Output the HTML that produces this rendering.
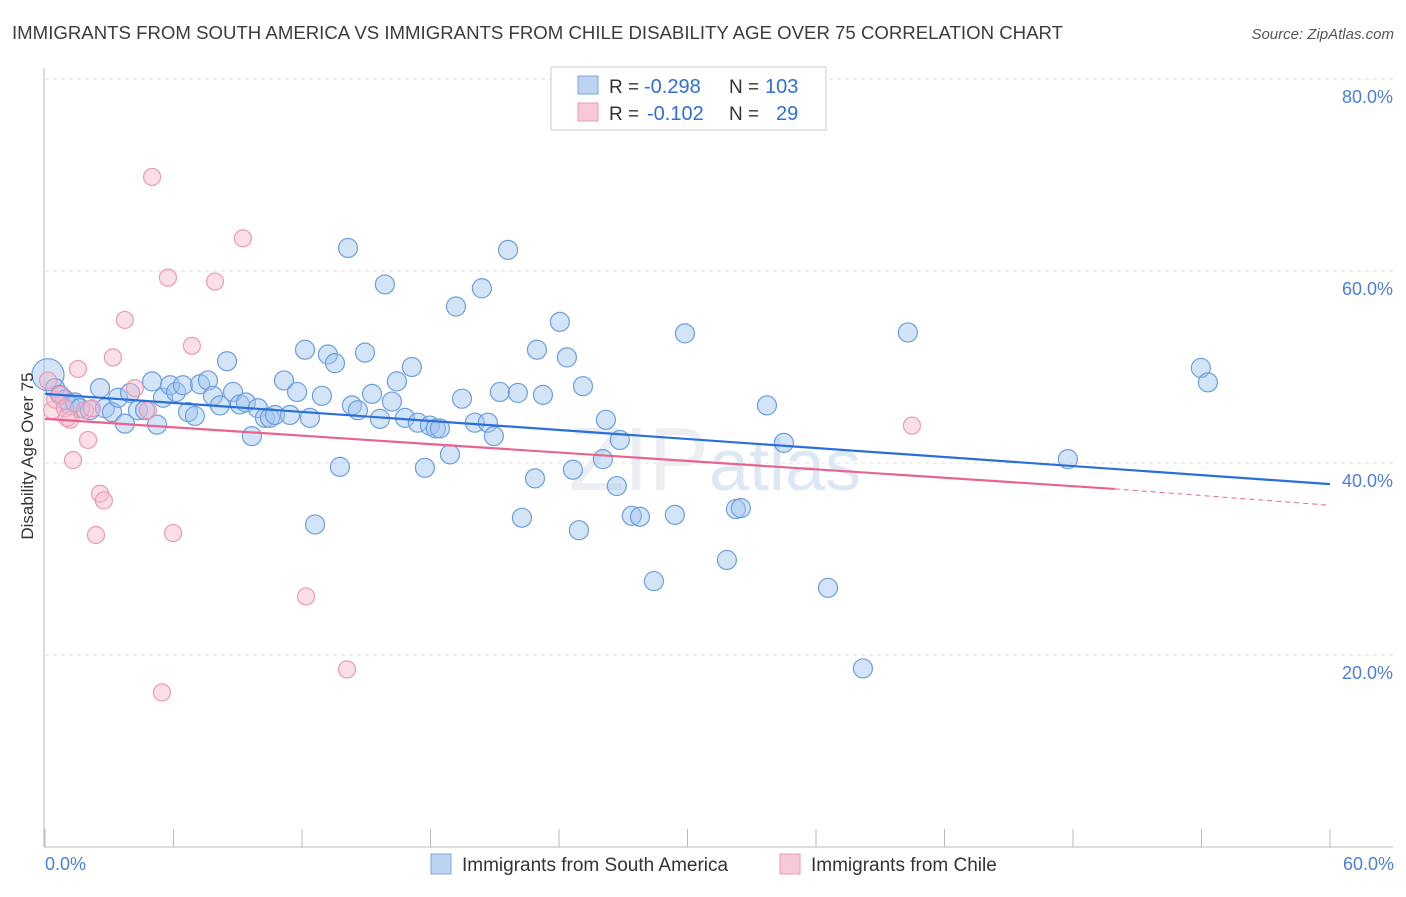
<!DOCTYPE html>
<html><head><meta charset="utf-8"><style>
body{margin:0;background:#fff;font-family:"Liberation Sans",sans-serif;}
svg text{font-family:"Liberation Sans",sans-serif;}
</style></head><body>
<svg id="chart" width="1406" height="892" xmlns="http://www.w3.org/2000/svg">
<text x="12" y="39" font-size="18" fill="#3c3c3c" textLength="1051" lengthAdjust="spacingAndGlyphs">IMMIGRANTS FROM SOUTH AMERICA VS IMMIGRANTS FROM CHILE DISABILITY AGE OVER 75 CORRELATION CHART</text>
<text x="1394" y="39" font-size="15" fill="#555" text-anchor="end" font-style="italic">Source: ZipAtlas.com</text>
<g id="grid"></g>
<text x="715" y="490" font-size="90" fill="#eceef2" text-anchor="middle" font-family="Liberation Serif">ZIP<tspan font-family="Liberation Sans" font-size="72" fill="#dde8f5">atlas</tspan></text>
<g id="pts"></g>
<g id="lines"></g>
<text transform="translate(33,456) rotate(-90)" font-size="17" fill="#333" text-anchor="middle">Disability Age Over 75</text>
<text x="45" y="870" font-size="18" fill="#4a7fd6">0.0%</text>
<text x="1394" y="870" font-size="18" fill="#4a7fd6" text-anchor="end">60.0%</text>
<g>
<rect x="551" y="67" width="275" height="63" fill="#fff" stroke="#ccc"/>
<rect x="578" y="76" width="20" height="18" fill="#bcd4f2" stroke="#7fa7df"/>
<rect x="578" y="103" width="20" height="18" fill="#f8c9d6" stroke="#ee9ab2"/>
<text x="609" y="93" font-size="19" fill="#333">R =</text>
<text x="644" y="93" font-size="20" fill="#2f6fd6">-0.298</text>
<text x="729" y="93" font-size="19" fill="#333">N =</text>
<text x="765" y="93" font-size="20" fill="#2f6fd6">103</text>
<text x="609" y="120" font-size="19" fill="#333">R =</text>
<text x="647" y="120" font-size="20" fill="#2f6fd6">-0.102</text>
<text x="729" y="120" font-size="19" fill="#333">N =</text>
<text x="776" y="120" font-size="20" fill="#2f6fd6">29</text>
</g>
<g>
<rect x="431" y="854" width="20" height="20" fill="#bcd4f2" stroke="#7fa7df"/>
<text x="462" y="871" font-size="19" fill="#333">Immigrants from South America</text>
<rect x="780" y="854" width="20" height="20" fill="#f8c9d6" stroke="#ee9ab2"/>
<text x="811" y="871" font-size="19" fill="#333">Immigrants from Chile</text>
</g>
</svg>
<script>
const yTicks=[20,40,60,80];
const yTickLabels=["20.0%","40.0%","60.0%","80.0%"];
const xTicks=[0,6,12,18,24,30,36,42,48,54,60];
const blueX=[0.14,0.47,0.70,0.93,1.17,1.40,1.63,2.10,2.57,2.80,3.13,3.41,3.73,3.97,4.34,4.67,5.00,5.23,5.51,5.84,6.12,6.44,6.68,7.00,7.24,7.61,7.84,8.17,8.50,8.78,9.10,9.38,9.66,9.94,10.27,10.50,10.74,11.16,11.44,11.77,12.14,12.37,12.61,12.93,13.21,13.54,13.77,14.15,14.33,14.61,14.94,15.27,15.64,15.87,16.20,16.43,16.81,17.13,17.41,17.74,17.97,18.25,18.44,18.91,19.19,19.47,20.07,20.40,20.68,20.96,21.24,21.62,22.08,22.27,22.88,22.97,23.25,24.04,24.37,24.65,24.93,25.12,26.05,26.19,26.70,26.84,27.40,27.78,28.43,29.41,29.88,31.84,32.26,32.49,33.71,34.50,36.56,38.19,40.29,47.76,53.97,54.30];
const blueY=[49.2,47.8,47.1,46.6,46.0,46.3,45.7,45.5,47.8,45.7,45.3,46.8,44.1,47.3,45.5,45.5,48.5,44.0,46.8,48.1,47.4,48.1,45.3,44.9,48.2,48.6,47.0,46.0,50.6,47.4,46.1,46.3,42.8,45.7,44.7,44.7,45.0,48.6,45.0,47.4,51.8,44.7,33.6,47.0,51.3,50.4,39.6,62.4,46.0,45.5,51.5,47.2,44.6,58.6,46.4,48.5,44.7,50.0,44.2,39.5,43.9,43.6,43.6,40.9,56.3,46.7,44.2,58.2,44.2,42.8,47.4,62.2,47.3,34.3,38.4,51.8,47.1,54.7,51.0,39.3,33.0,48.0,40.4,44.5,37.6,42.4,34.5,34.4,27.7,34.6,53.5,29.9,35.2,35.3,46.0,42.1,27.0,18.6,53.6,40.4,49.9,48.4];
const pinkX=[0.14,0.33,0.47,0.70,0.93,1.17,1.03,1.31,1.54,1.87,2.01,2.19,2.57,2.75,2.38,3.17,3.73,4.20,4.81,5.00,5.74,5.98,5.46,6.86,7.94,9.24,12.19,14.10,40.48];
const pinkY=[48.6,45.5,46.6,47.1,45.7,44.5,44.7,40.3,49.8,45.5,42.4,45.7,36.8,36.1,32.5,51.0,54.9,47.8,45.5,69.8,59.3,32.7,16.1,52.2,58.9,63.4,26.1,18.5,43.9];
const blueLine=[47.2,37.8];
const pinkLine=[44.6,37.3,35.6];
const pinkSolidEnd=49.95;

const NS="http://www.w3.org/2000/svg";
const xs=v=>45+v*(1285/60);
const ys=v=>847-v*9.6;
function mk(t,a,p){const e=document.createElementNS(NS,t);for(const k in a)e.setAttribute(k,a[k]);p.appendChild(e);return e;}
const grid=document.getElementById('grid');
yTicks.forEach((t,i)=>{
 const l=mk('line',{x1:45,x2:1393,y1:ys(t),y2:ys(t),stroke:'#e2e2e2','stroke-dasharray':'4,4'},grid);
 
 
 const tx=mk('text',{x:1393,y:ys(t)+24,'font-size':18,fill:'#4a7fd6','text-anchor':'end'},grid);
 tx.textContent=yTickLabels[i];
 
 
});
const ax=mk('line',{x1:44,x2:44,y1:68,y2:847,stroke:'#bbb'},grid);


const bx=mk('line',{x1:44,x2:1393,y1:847,y2:847,stroke:'#bbb'},grid);


xTicks.forEach(t=>{
 const l=mk('line',{x1:xs(t),x2:xs(t),y1:829,y2:847,stroke:'#bbb'},grid);
 
 
});
const pts=document.getElementById('pts');
blueX.forEach((x,i)=>{
 const c=mk('circle',{cx:xs(x),cy:ys(blueY[i]),r:i===0?16:9.5,fill:'rgba(160,196,238,0.45)',stroke:'#6b9ee0','stroke-width':1.2},pts);
 
 
});
pinkX.forEach((x,i)=>{
 const c=mk('circle',{cx:xs(x),cy:ys(pinkY[i]),r:8.5,fill:'rgba(246,184,204,0.45)',stroke:'#eb9ab5','stroke-width':1.2},pts);
 
 
});
const lines=document.getElementById('lines');
const b=mk('line',{x1:xs(0),y1:ys(blueLine[0]),x2:xs(60),y2:ys(blueLine[1]),stroke:'#2a6fd8','stroke-width':2.2},lines);


const p=mk('line',{x1:xs(0),y1:ys(pinkLine[0]),x2:xs(pinkSolidEnd),y2:ys(pinkLine[1]),stroke:'#e8648f','stroke-width':2.2},lines);


const pd=mk('line',{x1:xs(pinkSolidEnd),y1:ys(pinkLine[1]),x2:xs(60),y2:ys(pinkLine[2]),stroke:'#e8648f','stroke-width':1,'stroke-dasharray':'5,4'},lines);


</script>
</body></html>
